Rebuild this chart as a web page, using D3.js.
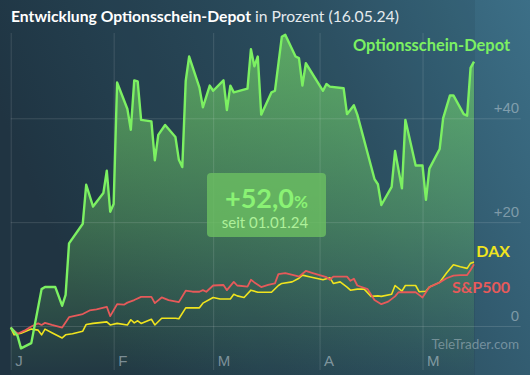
<!DOCTYPE html>
<html>
<head>
<meta charset="utf-8">
<script src="https://cdn.jsdelivr.net/npm/d3@7"></script>
<style>
  body { margin: 0; background: #2a4656; }
  svg { display: block; font-family: Lato, "Noto Sans", sans-serif; }
</style>
</head>
<body>
<svg width="530" height="375"></svg>
<script>
// values in percent since 01.01.24
var depot = [["01-02",-0.3],["01-04",-1.9],["01-05",-4.3],["01-08",-3.3],["01-11",7.1],["01-12",7.5],["01-15",7.5],["01-17",3.9],["01-18",6.0],["01-19",15.9],["01-23",19.7],["01-24",27.2],["01-26",23.0],["01-29",25.6],["01-30",29.9],["01-31",22.0],["02-01",23.5],["02-02",46.9],["02-05",41.8],["02-06",37.8],["02-07",47.3],["02-08",47.1],["02-09",39.7],["02-12",39.4],["02-13",31.9],["02-14",36.8],["02-16",38.7],["02-19",36.4],["02-20",32.0],["02-21",30.6],["02-22",47.2],["02-23",51.9],["02-26",45.9],["02-27",42.1],["02-29",46.3],["03-01",45.3],["03-04",47.3],["03-05",41.6],["03-06",46.3],["03-07",45.0],["03-11",45.7],["03-12",53.3],["03-13",50.0],["03-14",51.9],["03-15",40.7],["03-18",45.0],["03-19",45.3],["03-21",55.7],["03-22",56.1],["03-25",51.9],["03-26",51.6],["03-27",46.3],["03-28",50.6],["04-02",45.3],["04-03",46.6],["04-04",46.1],["04-08",45.8],["04-09",40.8],["04-11",42.5],["04-12",40.7],["04-17",28.3],["04-18",27.3],["04-19",23.3],["04-22",26.8],["04-23",33.7],["04-25",26.5],["04-26",39.7],["04-29",30.9],["05-01",30.9],["05-02",24.3],["05-03",30.3],["05-06",34.1],["05-07",40.0],["05-09",44.4],["05-10",44.4],["05-13",40.8],["05-14",40.5],["05-15",49.7],["05-16",50.9]];

var sp500 = [["01-02",-0.3],["01-04",-1.5],["01-06",-0.9],["01-08",-0.1],["01-10",0.5],["01-11",0.2],["01-12",0.6],["01-14",0.2],["01-17",-0.3],["01-19",1.7],["01-21",2.0],["01-23",2.3],["01-25",3.0],["01-27",3.2],["01-30",3.7],["01-31",1.9],["02-02",4.2],["02-04",4.1],["02-05",4.5],["02-07",5.0],["02-09",5.6],["02-12",5.6],["02-13",4.4],["02-15",5.5],["02-17",5.0],["02-20",4.6],["02-22",6.8],["02-24",6.6],["02-26",6.6],["02-27",6.9],["02-28",6.6],["03-01",7.8],["03-04",7.9],["03-05",6.9],["03-07",8.5],["03-08",7.8],["03-11",7.6],["03-12",8.9],["03-13",8.4],["03-15",7.5],["03-17",7.9],["03-19",8.2],["03-20",10.0],["03-22",10.2],["03-25",9.7],["03-26",9.5],["03-28",10.6],["03-30",10.2],["04-03",9.4],["04-04",8.9],["04-05",9.5],["04-09",9.5],["04-10",8.7],["04-11",9.1],["04-12",7.8],["04-15",7.1],["04-17",5.0],["04-19",4.2],["04-21",4.7],["04-23",5.7],["04-24",6.5],["04-25",6.5],["04-29",6.5],["04-30",6.0],["05-01",5.5],["05-03",7.5],["05-06",8.4],["05-08",9.2],["05-10",9.7],["05-12",9.8],["05-14",9.8],["05-15",10.8],["05-16",11.9]];

var dax = [["01-02",-0.3],["01-03",-1.7],["01-05",-1.4],["01-08",-0.6],["01-10",-0.8],["01-11",-1.7],["01-12",-0.6],["01-14",-1.3],["01-17",-2.3],["01-18",-1.7],["01-20",-1.5],["01-23",-1.0],["01-24",0.3],["01-26",0.5],["01-30",0.8],["01-31",0.2],["02-02",0.5],["02-05",0.2],["02-06",1.2],["02-07",0.6],["02-08",1.0],["02-09",0.5],["02-12",1.3],["02-13",0.2],["02-15",1.5],["02-19",1.5],["02-20",1.4],["02-22",3.5],["02-26",3.5],["02-27",4.4],["03-01",5.5],["03-03",5.2],["03-06",5.2],["03-07",6.1],["03-08",5.8],["03-10",5.5],["03-12",6.9],["03-14",6.5],["03-18",6.5],["03-20",7.8],["03-21",8.2],["03-24",8.5],["03-26",9.2],["03-27",9.8],["03-29",9.5],["04-02",8.9],["04-04",9.3],["04-05",8.2],["04-07",8.5],["04-09",7.5],["04-10",6.9],["04-12",7.1],["04-14",7.1],["04-16",5.7],["04-18",5.8],["04-19",5.7],["04-22",6.1],["04-23",7.8],["04-25",6.7],["04-26",7.8],["04-29",7.8],["04-30",6.6],["05-02",6.7],["05-03",7.5],["05-06",8.4],["05-08",10.2],["05-10",11.8],["05-12",11.4],["05-14",11.1],["05-15",12.1],["05-16",12.3]];

var monthTicks = ["01-02","02-01","03-01","04-01","05-01"];
var monthLabels = ["J","F","M","A","M"];
var yTicks = [0, 20, 40];

var svg = d3.select("svg"),
    width = 530,
    height = 375;

var parseTime = d3.timeParse("%Y-%m-%d");
function day(s) { return parseTime("2024-" + s); }

var x = d3.scaleTime().domain([day("01-02"), day("05-16")]).range([10.7, 474]),
    y = d3.scaleLinear().domain([0, 40]).range([326, 118.3]);

var defs = svg.append("defs");

var bg = defs.append("linearGradient").attr("id", "bg")
    .attr("x1", 0).attr("y1", 0.3).attr("x2", 1).attr("y2", 0);
bg.append("stop").attr("offset", 0).attr("stop-color", "#223847");
bg.append("stop").attr("offset", 0.55).attr("stop-color", "#2d5163");
bg.append("stop").attr("offset", 1).attr("stop-color", "#3c6f87");

var fade = defs.append("linearGradient").attr("id", "fade")
    .attr("gradientUnits", "userSpaceOnUse")
    .attr("x1", 0).attr("y1", 40).attr("x2", 0).attr("y2", 375);
fade.append("stop").attr("offset", 0).attr("stop-color", "#7ee868").attr("stop-opacity", 0.58);
fade.append("stop").attr("offset", 0.55).attr("stop-color", "#7ee868").attr("stop-opacity", 0.3);
fade.append("stop").attr("offset", 1).attr("stop-color", "#7ee868").attr("stop-opacity", 0.02);

svg.append("rect").attr("width", width).attr("height", height).attr("fill", "url(#bg)");
// plot area slightly darker than the label strip on the right
svg.append("rect").attr("x", 0).attr("y", 0).attr("width", x.range()[1] + 1).attr("height", height)
    .attr("fill", "#000").attr("opacity", 0.06);

var area = d3.area()
    .x(function(d) { return x(day(d[0])); })
    .y0(height)
    .y1(function(d) { return y(d[1]); });

var line = d3.line()
    .x(function(d) { return x(day(d[0])); })
    .y(function(d) { return y(d[1]); });

svg.append("path").datum(depot).attr("d", area).attr("fill", "url(#fade)");

// grid + axes
var xAxis = svg.append("g")
    .attr("transform", "translate(0,33)")
    .call(d3.axisBottom(x)
        .tickValues(monthTicks.map(day))
        .tickSize(337)
        .tickFormat(function(d, i) { return monthLabels[i]; }));
xAxis.select(".domain").remove();
xAxis.selectAll("line").attr("stroke", "#fff").attr("stroke-opacity", 0.13);
xAxis.selectAll("text")
    .attr("y", 333).attr("x", 4).attr("dy", 0)
    .attr("text-anchor", "start")
    .attr("fill", "#c8d4dc").attr("fill-opacity", 0.55)
    .style("font-size", "15px");

var yAxis = svg.append("g")
    .attr("transform", "translate(10.7,0)")
    .call(d3.axisRight(y).tickValues(yTicks).tickSize(510)
        .tickFormat(function(d) { return d > 0 ? "+" + d : d; }));
yAxis.select(".domain").remove();
yAxis.selectAll("line").attr("stroke", "#fff").attr("stroke-opacity", 0.13);
yAxis.selectAll("text")
    .attr("x", 508.5).attr("dy", -6)
    .attr("text-anchor", "end")
    .attr("fill", "#c8d4dc").attr("fill-opacity", 0.5)
    .style("font-size", "15px");

svg.append("path").datum(dax).attr("d", line)
    .attr("fill", "none").attr("stroke", "#f0e41e").attr("stroke-width", 1.6).attr("stroke-linejoin", "round");
svg.append("path").datum(sp500).attr("d", line)
    .attr("fill", "none").attr("stroke", "#e65a5a").attr("stroke-width", 1.8).attr("stroke-linejoin", "round");
svg.append("path").datum(depot).attr("d", line)
    .attr("fill", "none").attr("stroke", "#7cf062").attr("stroke-width", 2.4).attr("stroke-linejoin", "round");

// title
var title = svg.append("text").attr("x", 11).attr("y", 22)
    .attr("fill", "#fff").style("font-size", "15.7px");
title.append("tspan").attr("font-weight", 700).text("Entwicklung Optionsschein-Depot");
title.append("tspan").attr("fill", "#e4eaee").text(" in Prozent (16.05.24)");

// series labels
svg.append("text").attr("x", 510).attr("y", 51).attr("text-anchor", "end")
    .attr("font-weight", 700).attr("fill", "#7cf062").style("font-size", "16.4px")
    .text("Optionsschein-Depot");
svg.append("text").attr("x", 510).attr("y", 257).attr("text-anchor", "end")
    .attr("font-weight", 700).attr("fill", "#f0e41e").style("font-size", "16px")
    .text("DAX");
svg.append("text").attr("x", 510).attr("y", 293).attr("text-anchor", "end")
    .attr("font-weight", 700).attr("fill", "#e65a5a").style("font-size", "16px")
    .text("S&P500");

// performance box
var box = svg.append("g").attr("transform", "translate(207,173)");
box.append("rect").attr("width", 119).attr("height", 64).attr("rx", 4)
    .attr("fill", "#6cbf62").attr("fill-opacity", 0.8);
var big = box.append("text").attr("x", 59.5).attr("y", 35).attr("text-anchor", "middle")
    .attr("fill", "#8af274").attr("font-weight", 700);
big.append("tspan").style("font-size", "27px").text("+52,0");
big.append("tspan").style("font-size", "17px").text("%");
box.append("text").attr("x", 58).attr("y", 55).attr("text-anchor", "middle")
    .attr("fill", "#aef09a").style("font-size", "15px").text("seit 01.01.24");

svg.append("text").attr("x", 519).attr("y", 349).attr("text-anchor", "end")
    .attr("fill", "#c8d4dc").attr("fill-opacity", 0.45).style("font-size", "13.5px")
    .text("TeleTrader.com");
</script>
</body>
</html>
